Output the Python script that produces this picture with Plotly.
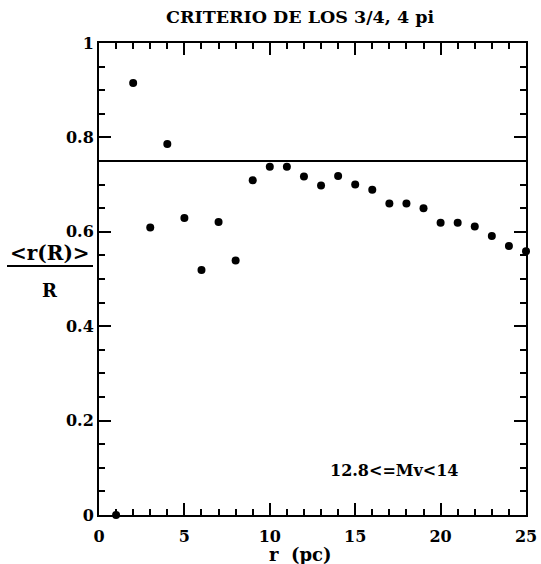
import plotly.graph_objects as go

# Data
r_pc = [1, 2, 3, 4, 5, 6, 7, 8, 9, 10, 11, 12, 13, 14, 15, 16, 17, 18, 19, 20, 21, 22, 23, 24, 25]
ratio = [0.0, 0.915, 0.609, 0.786, 0.629, 0.519, 0.621, 0.539, 0.709, 0.738, 0.738,
         0.717, 0.698, 0.718, 0.700, 0.689, 0.660, 0.660, 0.650, 0.619, 0.619,
         0.611, 0.591, 0.570, 0.559]
criterion = 0.75
x_ticks = [0, 5, 10, 15, 20, 25]
x_tick_labels = ["0", "5", "10", "15", "20", "25"]
y_ticks = [0, 0.2, 0.4, 0.6, 0.8, 1.0]
y_tick_labels = ["0", "0.2", "0.4", "0.6", "0.8", "1"]
title_text = "CRITERIO DE LOS 3/4, 4 pi"
x_title = "r  (pc)"
y_title_top = "&lt;r(R)&gt;"
y_title_bottom = "R"
note_text = "12.8&lt;=Mv&lt;14"

FONT = "DejaVu Serif"

def bold(s):
    return "<b>" + s + "</b>"

fig = go.Figure()
fig.add_trace(go.Scatter(
    x=r_pc, y=ratio, mode="markers",
    marker=dict(color="black", size=8),
    cliponaxis=False, showlegend=False,
))
fig.add_hline(y=criterion, line=dict(color="black", width=1.8))

tickfont = dict(family=FONT, size=16, color="black")
fig.update_xaxes(
    range=[0, 25], tickmode="array", tickvals=x_ticks, ticktext=[bold(t) for t in x_tick_labels],
    showline=True, linecolor="black", linewidth=2, mirror="allticks",
    ticks="inside", tickcolor="black", tickwidth=2, ticklen=12,
    showgrid=False, zeroline=False, tickfont=tickfont, automargin=False,
    ticklabelstandoff=6,
    minor=dict(dtick=1, ticks="inside", ticklen=6, tickwidth=2, tickcolor="black", showgrid=False),
)
fig.update_yaxes(
    range=[0, 1], tickmode="array", tickvals=y_ticks, ticktext=[bold(t) for t in y_tick_labels],
    showline=True, linecolor="black", linewidth=2, mirror="allticks",
    ticks="inside", tickcolor="black", tickwidth=2, ticklen=12,
    showgrid=False, zeroline=False, tickfont=tickfont, automargin=False,
    minor=dict(dtick=0.05, ticks="inside", ticklen=6, tickwidth=2, tickcolor="black", showgrid=False),
)

fig.update_layout(
    width=541, height=564,
    margin=dict(l=99, r=15, t=43, b=49),
    plot_bgcolor="white", paper_bgcolor="white",
    font=dict(family=FONT, color="black"),
    showlegend=False,
)

fig.add_annotation(text=bold(title_text), xref="paper", yref="paper", x=(300 - 99) / 427, y=1 + (43 - 17) / 472,
                   showarrow=False, xanchor="center", yanchor="middle",
                   font=dict(family=FONT, size=17.5, color="black"))
fig.add_annotation(text=bold(x_title), xref="x", yref="paper", x=11.8, y=(515 - 554) / 472,
                   showarrow=False, xanchor="center", yanchor="middle",
                   font=dict(family=FONT, size=18, color="black"))
fig.add_annotation(text=bold(y_title_top), xref="paper", yref="paper", x=(50 - 99) / 427, y=(515 - 253) / 472,
                   showarrow=False, xanchor="center", yanchor="middle",
                   font=dict(family=FONT, size=20, color="black"))
fig.add_annotation(text=bold(y_title_bottom), xref="paper", yref="paper", x=(50 - 99) / 427, y=(515 - 290) / 472,
                   showarrow=False, xanchor="center", yanchor="middle",
                   font=dict(family=FONT, size=18, color="black"))
fig.add_shape(type="line", xref="paper", yref="paper",
              x0=(7 - 99) / 427, x1=(93 - 99) / 427, y0=(515 - 266) / 472, y1=(515 - 266) / 472,
              line=dict(color="black", width=2))
fig.add_annotation(text=bold(note_text), xref="x", yref="y", x=17.3, y=0.095,
                   showarrow=False, xanchor="center", yanchor="middle",
                   font=dict(family=FONT, size=16, color="black"))

fig.write_html("out.html", config={"displayModeBar": False},
               post_script="document.body.style.margin='0';")
